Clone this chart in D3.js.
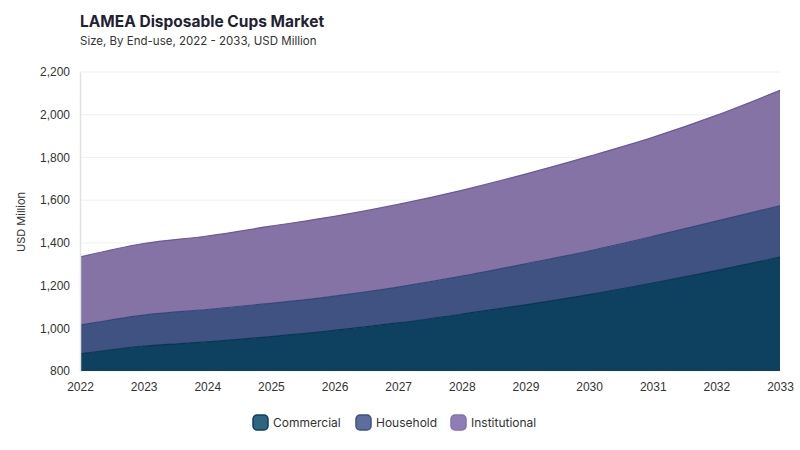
<!DOCTYPE html>
<html>
<head>
<meta charset="utf-8">
<script src="https://cdn.jsdelivr.net/npm/d3@7"></script>
<style>
  body { margin: 0; background: #fff; }
  svg { font-family: Inter, "Noto Sans", sans-serif; }
</style>
</head>
<body>
<svg width="800" height="450"></svg>
<script>
// values
const years = [2022, 2023, 2024, 2025, 2026, 2027, 2028, 2029, 2030, 2031, 2032, 2033];
const commercial = [880, 917, 936, 961, 990, 1025, 1066, 1110, 1158, 1212, 1270, 1333];
const household = [135, 145, 152, 156, 161, 168, 178, 192, 204, 218, 232, 240];
const institutional = [319, 335, 344, 361, 373, 387, 402, 420, 443, 464, 495, 541];
const seriesNames = ['Commercial', 'Household', 'Institutional'];
const yTicks = [800, 1000, 1200, 1400, 1600, 1800, 2000, 2200];

const fills = ['#0e4060', '#3f5282', '#8573a6'];
const strokes = ['#093452', '#33477a', '#6b5996'];
const swatch = ['#2f6580', '#5b6e9e', '#8f7db8'];

const svg = d3.select('svg');
const margin = {top: 72, right: 20, bottom: 79, left: 80};
const width = +svg.attr('width');
const height = +svg.attr('height');
const innerWidth = width - margin.left - margin.right;
const innerHeight = height - margin.top - margin.bottom;

const data = years.map((y, i) => ({
    year: y,
    Commercial: commercial[i],
    Household: household[i],
    Institutional: institutional[i]
}));

const stack = d3.stack().keys(seriesNames);
const layers = stack(data);

const xScale = d3.scaleLinear()
    .domain(d3.extent(years))
    .range([0, innerWidth]);

const yScale = d3.scaleLinear()
    .domain([800, 2200])
    .range([innerHeight, 0]);

const g = svg.append('g')
    .attr('transform', `translate(${margin.left}, ${margin.top})`);

// grid
g.append('g').selectAll('line').data(yTicks).enter().append('line')
    .attr('x1', 0)
    .attr('x2', innerWidth)
    .attr('y1', d => yScale(d))
    .attr('y2', d => yScale(d))
    .attr('stroke', '#f0f0f0');

const curve = d3.curveCatmullRom.alpha(0.5);

const area = d3.area()
    .x(d => xScale(d.data.year))
    .y0(d => yScale(Math.max(800, d[0])))
    .y1(d => yScale(d[1]))
    .curve(curve);

const line = d3.line()
    .x(d => xScale(d.data.year))
    .y(d => yScale(d[1]))
    .curve(curve);

g.selectAll('.layer').data(layers).enter().append('path')
    .attr('class', 'layer')
    .attr('d', area)
    .attr('fill', (d, i) => fills[i]);

g.selectAll('.edge').data(layers).enter().append('path')
    .attr('class', 'edge')
    .attr('d', line)
    .attr('fill', 'none')
    .attr('stroke', (d, i) => strokes[i])
    .attr('stroke-width', 1.2);

// axes
const yAxis = d3.axisLeft(yScale)
    .tickValues(yTicks)
    .tickFormat(d3.format(','))
    .tickSize(0)
    .tickPadding(10);
const yg = g.append('g').call(yAxis);
yg.select('.domain').attr('stroke', '#e2e2e2').attr('stroke-width', 1.5);
yg.selectAll('text').attr('font-size', 12).attr('fill', '#333');

const xAxis = d3.axisBottom(xScale)
    .tickValues(years)
    .tickFormat(d3.format('d'))
    .tickSize(0)
    .tickPadding(11);
const xg = g.append('g')
    .attr('transform', `translate(0, ${innerHeight})`)
    .call(xAxis);
xg.select('.domain').remove();
xg.selectAll('text').attr('font-size', 12).attr('fill', '#333');

// titles
svg.append('text')
    .attr('x', 80)
    .attr('y', 27)
    .attr('font-size', 15.5)
    .attr('font-weight', 'bold')
    .attr('fill', '#1f2233')
    .text('LAMEA Disposable Cups Market');

svg.append('text')
    .attr('x', 80)
    .attr('y', 45)
    .attr('font-size', 11.5)
    .attr('fill', '#333')
    .text('Size, By End-use, 2022 - 2033, USD Million');

svg.append('text')
    .attr('transform', 'translate(25, 222) rotate(-90)')
    .attr('text-anchor', 'middle')
    .attr('font-size', 11)
    .attr('fill', '#333')
    .text('USD Million');

// legend
const legendX = [253, 356, 451];
const legend = svg.append('g').attr('transform', 'translate(0, 415)');
const items = legend.selectAll('g').data(seriesNames).enter().append('g')
    .attr('transform', (d, i) => `translate(${legendX[i]}, 0)`);
items.append('rect')
    .attr('width', 15)
    .attr('height', 15)
    .attr('rx', 4)
    .attr('fill', (d, i) => swatch[i])
    .attr('stroke', (d, i) => fills[i])
    .attr('stroke-width', 1.5);
items.append('text')
    .attr('x', 20)
    .attr('y', 12)
    .attr('font-size', 12)
    .attr('fill', '#333')
    .text(d => d);
</script>
</body>
</html>
